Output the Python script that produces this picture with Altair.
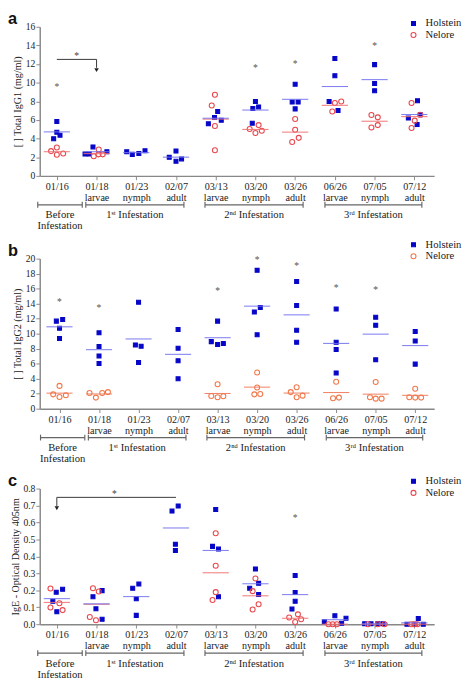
import altair as alt
import pandas as pd

# ---------------- shared categories ----------------
dates = ["01/16", "01/18", "01/23", "02/07", "03/13", "03/20", "03/26", "06/26", "07/05", "07/12"]
stages = ["", "larvae", "nymph", "adult", "larvae", "nymph", "adult", "larvae", "nymph", "adult"]

bracket_labels = ["Before|Infestation", "1ˢᵗ Infestation", "2ⁿᵈ Infestation", "3ʳᵈ Infestation"]
bracket_start = [-0.48, 0.73, 3.73, 6.75]
bracket_end = [0.64, 3.20, 6.20, 9.19]

# ---------------- panel a : total IgG1 ----------------
a_hol = [[5.84, 4.69, 4.37, 3.99], [3.11, 2.34, 2.34, 2.59], [2.59, 2.31, 2.41, 2.69], [2.66, 1.99, 1.82, 1.57],
         [6.92, 6.26, 5.98, 5.59], [7.99, 7.22, 7.40, 5.65], [9.84, 7.92, 7.92, 7.19], [12.6, 10.75, 7.99, 7.02],
         [11.94, 9.91, 9.14], [8.06, 6.21, 6.56, 5.51]]
a_hol_dx = [[0, 0, 0.08, -0.08], [-0.09, -0.29, -0.185, 0.26], [-0.24, -0.1, 0.065, 0.22], [0, -0.17, 0.14, 0],
            [0.05, -0.03, 0.14, -0.185], [0, -0.065, 0.08, -0.08], [0, -0.075, 0.075, 0], [0, 0, -0.145, 0.08],
            [0, 0, 0], [0.08, -0.15, 0.15, 0.07]]
a_nel = [[3.04, 2.66, 2.41, 2.27], [2.83, 2.10, 2.31, 2.31], [], [],
         [8.71, 7.55, 5.35, 2.76], [5.03, 5.45, 4.61, 4.85], [6.11, 4.96, 4.08, 3.63], [7.82, 7.99, 6.91],
         [6.53, 6.28, 5.20, 5.45], [7.82, 6.56, 5.93, 5.13]]
a_nel_dx = [[0, -0.145, 0.16, 0], [0.055, -0.07, 0.05, 0.155], [], [],
            [-0.02, -0.1, -0.02, -0.02], [-0.145, 0.08, 0, 0.16], [0, 0, 0.09, -0.075], [0, 0.16, -0.065],
            [-0.08, 0.08, -0.08, 0.08], [-0.07, 0.15, 0.01, -0.07]]
a_star_idx = [0, 5, 6, 8]
a_star_val = [9.74, 11.8, 12.15, 14.1]
a_sig = dict(x1=0, x2=1, y=12.5, vx=1, vy2=11.6, ay=11.35, sx=0.5, sy=13.1)

# ---------------- panel b : total IgG2 ----------------
b_hol = [[11.67, 11.89, 10.72, 9.37], [10.11, 8.29, 7.03, 6.03], [14.19, 8.50, 8.33, 6.16], [10.54, 8.07, 6.38, 3.99],
         [11.67, 8.94, 8.55, 8.68], [18.44, 13.49, 12.89, 9.85], [16.96, 13.75, 10.46, 8.85], [13.28, 8.85, 7.90, 4.77],
         [12.19, 11.11, 6.51], [10.28, 9.02, 5.94]]
b_hol_dx = [[-0.08, 0.08, 0, 0], [0, 0, 0, 0], [0, -0.08, 0.065, 0], [0, 0, 0, 0],
            [0, -0.16, 0, 0.145], [0, 0.08, -0.07, 0], [0, 0, 0, 0], [0, 0, 0, 0],
            [0, 0, 0], [0, 0, 0]]
b_nel = [[3.04, 1.91, 1.56, 1.78], [2.08, 1.48, 2.08, 2.21], [], [],
         [3.25, 1.69, 1.52, 1.65], [4.82, 2.82, 1.91, 1.95], [2.21, 2.86, 1.52, 1.74], [3.60, 1.39, 1.48],
         [3.56, 1.52, 1.34, 1.34], [2.65, 1.52, 1.48, 1.48]]
b_nel_dx = [[0, -0.16, 0, 0.16], [-0.24, -0.08, 0.08, 0.225], [], [],
            [0, -0.16, 0, 0.145], [0, 0, -0.07, 0.08], [-0.15, 0, 0, 0.15], [0, -0.08, 0.07],
            [0, -0.145, 0, 0.15], [0, -0.15, 0, 0.15]]
b_star_idx = [0, 1, 4, 5, 6, 7, 8]
b_star_val = [14.5, 13.6, 15.9, 20.1, 19.2, 16.3, 16.0]

# ---------------- panel c : IgE ----------------
c_hol = [[0.206, 0.189, 0.135, 0.073], [0.198, 0.162, 0.091, 0.029], [0.237, 0.212, 0.150, 0.052],
         [0.697, 0.667, 0.472, 0.434], [0.676, 0.459, 0.443, 0.162], [0.326, 0.241, 0.212, 0.175],
         [0.287, 0.187, 0.135, 0.089], [0.050, 0.035, 0.015, 0.006], [0.002, 0.002, 0.002, 0.002],
         [0.033, 0.0, 0.0, 0.0]]
c_hol_dx = [[0.145, -0.015, -0.1, 0], [0.14, -0.09, -0.015, 0.14], [0.065, -0.09, 0, 0],
            [0.055, -0.1, -0.015, -0.015], [0, -0.08, 0.07, 0.07], [0, 0.08, -0.145, 0.08],
            [0, 0, 0, -0.08], [0, 0.28, -0.265, 0.17], [-0.25, -0.09, 0.08, 0.21],
            [0.1, -0.185, 0.015, 0.225]]
c_nel = [[0.210, 0.123, 0.098, 0.083], [0.212, 0.193, 0.042, 0.023], [], [],
         [0.536, 0.345, 0.189, 0.143], [0.270, 0.195, 0.118, 0.087], [0.058, 0.040, 0.029, 0.013],
         [0.0, 0.0, 0.0], [0.0, 0.0, 0.0], [0.0, 0.0, 0.0]]
c_nel_dx = [[-0.16, 0.065, -0.16, 0.145], [-0.09, 0.055, -0.17, -0.015], [], [],
            [0, 0, 0, -0.08], [0, -0.07, 0.08, -0.07], [0.07, -0.15, 0.15, 0],
            [-0.16, -0.055, 0.05], [-0.17, 0.08, 0.25], [-0.08, 0, 0.08]]
c_star_idx = [6]
c_star_val = [0.636]
c_sig = dict(x1=0, x2=3, y=0.748, vx=0, vy2=0.695, ay=0.684, sx=1.45, sy=0.778)

SERIF = "Liberation Serif"
SANS = "Liberation Sans"
BLUE = "#0606c8"
BLUE_LINE = "#7373ee"

label_expr = "split([" + ",".join("'%s|%s'" % (d, s) for d, s in zip(dates, stages)) + "][datum.value], '|')"


def points_df(hol, hol_dx, nel, nel_dx):
    rows = []
    for i in range(len(dates)):
        for v, d in zip(hol[i], hol_dx[i]):
            rows.append(dict(idx=i, x=i + d, value=v, breed="Holstein"))
        for v, d in zip(nel[i], nel_dx[i]):
            rows.append(dict(idx=i, x=i + d, value=v, breed="Nelore"))
    return pd.DataFrame(rows)


brackets = pd.DataFrame(dict(label=bracket_labels, start=bracket_start, end=bracket_end))
brackets["center"] = (brackets["start"] + brackets["end"]) / 2
bracket_ends = pd.DataFrame(dict(pos=bracket_start + bracket_end))


def panel(letter, df, ytitle, ymax, ystep, yfmt, h, xdom, legend_y, red, red_line, star_idx, star_val, sig=None):
    xscale = alt.Scale(domain=xdom, nice=False, zero=False)
    yscale = alt.Scale(domain=[0, ymax], nice=False, zero=True)
    nt = int(round(ymax / ystep))
    yvals = [round(k * ystep, 3) for k in range(nt + 1)]
    legend = alt.Legend(title=None, orient="none", legendX=383, legendY=legend_y,
                        labelFont=SERIF, labelFontSize=11, labelColor="#222",
                        symbolSize=24, symbolStrokeWidth=1.1, rowPadding=0, labelOffset=7)
    dom = ["Holstein", "Nelore"]
    base = alt.Chart(df)
    pts = base.mark_point(filled=False, strokeWidth=1.1, opacity=1).encode(
        x=alt.X("x:Q", scale=xscale,
                axis=alt.Axis(values=list(range(len(dates))), tickCount=len(dates), labelExpr=label_expr,
                              title=None, grid=False,
                              labelFont=SERIF, labelFontSize=10.5, labelColor="#222", labelLineHeight=11.5,
                              labelPadding=2, tickSize=4, labelBaseline="top", labelOverlap=False)),
        y=alt.Y("value:Q", scale=yscale,
                axis=alt.Axis(values=yvals, tickCount=len(yvals), format=yfmt, title=ytitle, grid=False,
                              labelOverlap=False,
                              labelFont=SERIF, labelFontSize=10, labelColor="#222",
                              titleFont=SERIF, titleFontSize=10.5, titleFontWeight="normal",
                              titleColor="#222", titlePadding=3, tickSize=4, labelPadding=1)),
        color=alt.Color("breed:N", scale=alt.Scale(domain=dom, range=[BLUE, red]), legend=legend),
        fill=alt.Fill("breed:N", scale=alt.Scale(domain=dom, range=[BLUE, "transparent"]), legend=legend),
        shape=alt.Shape("breed:N", scale=alt.Scale(domain=dom, range=["square", "circle"]), legend=legend),
        size=alt.Size("breed:N", scale=alt.Scale(domain=dom, range=[17, 27]), legend=None),
    )
    layers = []
    for breed, col in (("Nelore", red_line), ("Holstein", BLUE_LINE)):
        layers.append(
            base.transform_filter(alt.datum.breed == breed)
            .transform_aggregate(m="mean(value)", groupby=["idx"])
            .transform_calculate(x1="datum.idx - 0.33", x2="datum.idx + 0.33")
            .mark_rule(color=col, strokeWidth=1.1, opacity=0.9)
            .encode(x=alt.X("x1:Q", scale=xscale), x2="x2:Q", y=alt.Y("m:Q", scale=yscale))
        )
    stars = alt.Chart(pd.DataFrame(dict(idx=star_idx, v=star_val))).mark_text(
        text="*", color="#555", fontSize=10, font=SERIF, baseline="middle", dy=2
    ).encode(x=alt.X("idx:Q", scale=xscale), y=alt.Y("v:Q", scale=yscale))
    layers.append(stars)

    if sig is not None:
        sdf = pd.DataFrame([sig])
        sb = alt.Chart(sdf)
        layers.append(sb.mark_rule(color="#333", strokeWidth=1).encode(
            x=alt.X("x1:Q", scale=xscale), x2="x2:Q", y=alt.Y("y:Q", scale=yscale)))
        layers.append(sb.mark_rule(color="#333", strokeWidth=1).encode(
            x=alt.X("vx:Q", scale=xscale), y=alt.Y("y:Q", scale=yscale), y2="vy2:Q"))
        layers.append(sb.mark_point(shape="triangle-down", filled=True, size=22, color="#222", opacity=1).encode(
            x=alt.X("vx:Q", scale=xscale), y=alt.Y("ay:Q", scale=yscale)))
        layers.append(sb.mark_text(text="*", color="#444", fontSize=10, font=SERIF, baseline="middle", dy=2).encode(
            x=alt.X("sx:Q", scale=xscale), y=alt.Y("sy:Q", scale=yscale)))

    bb = alt.Chart(brackets)
    layers.append(bb.mark_rule(color="#666", strokeWidth=1.3).encode(
        x=alt.X("start:Q", scale=xscale), x2="end:Q", y=alt.value(h + 30)))
    layers.append(alt.Chart(bracket_ends).mark_rule(color="#666", strokeWidth=1.2).encode(
        x=alt.X("pos:Q", scale=xscale), y=alt.value(h + 27), y2=alt.value(h + 33)))
    layers.append(bb.mark_text(font=SERIF, fontSize=11, color="#222", lineBreak="|", lineHeight=11.5,
                               baseline="top", align="center").encode(
        x=alt.X("center:Q", scale=xscale), y=alt.value(h + 35), text="label:N"))

    # panel letter
    layers.append(alt.Chart(pd.DataFrame(dict(t=[letter]))).mark_text(
        font=SANS, fontSize=17, fontWeight="bold", color="#111", align="left", baseline="alphabetic"
    ).encode(text="t:N", x=alt.value(-33), y=alt.value(-3)))

    return alt.layer(pts, *layers).properties(width=410, height=h)


pa = panel("a", points_df(a_hol, a_hol_dx, a_nel, a_nel_dx), "[ ] Total IgG1 (mg/ml)", 16, 2, "d", 155,
           [-0.43, 9.5], -9, "#e8474c", "#f07070", a_star_idx, a_star_val, a_sig)
pb = panel("b", points_df(b_hol, b_hol_dx, b_nel, b_nel_dx), "[ ] Total IgG2 (mg/ml)", 20, 2, "d", 156,
           [-0.5, 9.48], -20, "#f0784a", "#f07a5a", b_star_idx, b_star_val)
pc = panel("c", points_df(c_hol, c_hol_dx, c_nel, c_nel_dx), "IgE - Optical Density 405nm", 0.8, 0.1, ".1f", 141,
           [-0.43, 9.5], -13, "#e8474c", "#f07070", c_star_idx, c_star_val, c_sig)

chart = alt.vconcat(pa, pb, pc, spacing=8).resolve_scale(
    color="independent", fill="independent", shape="independent", size="independent"
).resolve_legend(color="independent", fill="independent", shape="independent").configure_view(
    stroke=None
).configure_axis(
    domainColor="#888", domainWidth=1.5, tickColor="#888", tickWidth=1
).properties(padding={"left": 0, "top": -11, "right": 2, "bottom": 0})

chart.save("out.html", embed_options={"renderer": "svg", "actions": False})
